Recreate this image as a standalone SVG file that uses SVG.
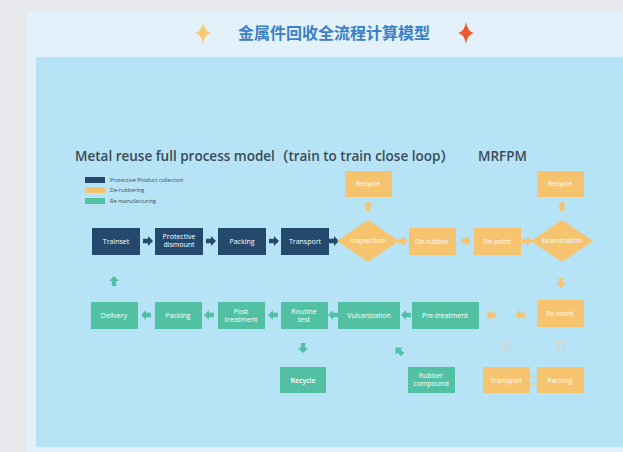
<svg xmlns="http://www.w3.org/2000/svg" xmlns:xlink="http://www.w3.org/1999/xlink" width="623" height="452" viewBox="0 0 623 452">
<style>
.t{font-family:"Open Sans","Liberation Sans",sans-serif;fill:#fff;text-anchor:middle;font-size:7px}
.nv{fill:#24496d}
.og{fill:#f6c46e}
.gr{fill:#52c0a2}
.lg{font-family:"Open Sans","Liberation Sans",sans-serif;font-size:5.5px;fill:#3a4a5a}
.h{font-family:"Open Sans","Liberation Sans",sans-serif;font-weight:600;font-size:13.5px;fill:#3b4a56}
.cj{font-family:"Noto Sans CJK SC",sans-serif}
</style>
<defs>
<path id="arr" d="M-5,-2.2 H0 V-5 L5,0 L0,5 V2.2 H-5 Z"/>
<path id="star" d="M0,-11 Q1.5,-1.5 8,0 Q1.5,1.5 0,11 Q-1.5,1.5 -8,0 Q-1.5,-1.5 0,-11 Z"/>
</defs>
<rect width="623" height="452" fill="#e6e8eb"/>
<rect x="27" y="11" width="596" height="441" fill="#e3f1fa"/>
<rect x="36" y="57" width="587" height="390" fill="#b6e3f6"/>
<use xlink:href="#star" x="203" y="33" fill="#f8c96e"/>
<use xlink:href="#star" x="466" y="33" fill="#ee5a2e"/>
<text x="334" y="39" font-family="'Noto Sans CJK SC',sans-serif" font-weight="bold" font-size="16" fill="#3a80c6" text-anchor="middle">金属件回收全流程计算模型</text>
<text x="75" y="161" class="h">Metal reuse full process model<tspan class="cj">（</tspan>train to train close loop<tspan class="cj">）</tspan></text>
<text x="478" y="161" class="h">MRFPM</text>
<g id="legend">
<rect x="85" y="177" width="20" height="6" class="nv"/><text x="110" y="182" class="lg">Protective Product collection</text>
<rect x="85" y="187" width="20" height="6" class="og"/><text x="110" y="192" class="lg">De-rubbering</text>
<rect x="85" y="198" width="20" height="6" class="gr"/><text x="110" y="203" class="lg">Re-manufacturing</text>
</g>
<g id="connectors">
<use xlink:href="#arr" x="148" y="241" fill="#24496d"/>
<use xlink:href="#arr" x="211" y="241" fill="#24496d"/>
<use xlink:href="#arr" x="274" y="241" fill="#24496d"/>
<use xlink:href="#arr" x="334" y="241" fill="#24496d"/>
<use xlink:href="#arr" x="403" y="241" fill="#f6c46e"/>
<use xlink:href="#arr" x="466" y="241" fill="#f6c46e"/>
<use xlink:href="#arr" x="527" y="241" fill="#f6c46e"/>
<use xlink:href="#arr" transform="translate(368,206) rotate(-90)" fill="#f6c46e"/>
<use xlink:href="#arr" transform="translate(562,206) rotate(-90)" fill="#f6c46e"/>
<use xlink:href="#arr" transform="translate(561,283) rotate(90)" fill="#f6c46e"/>
<use xlink:href="#arr" transform="translate(520,315) rotate(180)" fill="#f6c46e"/>
<use xlink:href="#arr" transform="translate(491,315) rotate(180)" fill="#f6c46e"/>
<use xlink:href="#arr" transform="translate(406,315) rotate(180)" fill="#52c0a2"/>
<use xlink:href="#arr" transform="translate(333,315) rotate(180)" fill="#52c0a2"/>
<use xlink:href="#arr" transform="translate(273,315) rotate(180)" fill="#52c0a2"/>
<use xlink:href="#arr" transform="translate(209,315) rotate(180)" fill="#52c0a2"/>
<use xlink:href="#arr" transform="translate(146,315) rotate(180)" fill="#52c0a2"/>
<use xlink:href="#arr" transform="translate(114,281) rotate(-90)" fill="#52c0a2"/>
<use xlink:href="#arr" transform="translate(303,348) rotate(90)" fill="#52c0a2"/>
<use xlink:href="#arr" transform="translate(399,351) rotate(-135)" fill="#52c0a2"/>
<use xlink:href="#arr" transform="translate(507,345) rotate(-90)" fill="none" stroke="#f2c79a" stroke-width="0.8"/>
<use xlink:href="#arr" transform="translate(561,345) rotate(-90)" fill="none" stroke="#f2c79a" stroke-width="0.8"/>
<line x1="530" y1="376" x2="537" y2="376" stroke="#f6c46e" stroke-width="1"/>
<line x1="530" y1="384" x2="537" y2="384" stroke="#f6c46e" stroke-width="1"/>
</g>
<g id="trainset"><rect x="92" y="228" width="48" height="27" class="nv"/><text x="116" y="244" class="t">Trainset</text></g>
<g id="dismount"><rect x="155" y="228" width="48" height="27" class="nv"/><text x="179" y="239" class="t" font-size="5.5">Protective</text><text x="179" y="247" class="t" font-size="5.5">dismount</text></g>
<g id="packing1"><rect x="218" y="228" width="48" height="27" class="nv"/><text x="242" y="244" class="t">Packing</text></g>
<g id="transport1"><rect x="281" y="228" width="48" height="27" class="nv"/><text x="305" y="244" class="t" font-size="6">Transport</text></g>
<g id="inspection"><path d="M368,220 L399,241 L368,262 L337,241 Z" class="og"/><text x="368" y="243" class="t" font-size="6">Inspection</text></g>
<g id="recycle1"><rect x="345" y="171" width="47" height="26" class="og"/><text x="368" y="186" class="t" font-size="6.5">Recycle</text></g>
<g id="derubber"><rect x="409" y="228" width="47" height="27" class="og"/><text x="432" y="244" class="t" font-size="6.5">De-rubber</text></g>
<g id="depaint"><rect x="474" y="228" width="47" height="27" class="og"/><text x="497" y="244" class="t" font-size="6.5">De-paint</text></g>
<g id="examination"><path d="M562,220 L593,241 L562,262 L531,241 Z" class="og"/><text x="562" y="243" class="t" font-size="6">Examination</text></g>
<g id="recycle2"><rect x="537" y="171" width="47" height="26" class="og"/><text x="560" y="186" class="t" font-size="6.5">Recycle</text></g>
<g id="remark"><rect x="537" y="300" width="47" height="27" class="og"/><text x="560" y="316" class="t" font-size="6.5">Re-mark</text></g>
<g id="transport2"><rect x="483" y="367" width="47" height="26" class="og"/><text x="506" y="383" class="t" font-size="6.5">Transport</text></g>
<g id="packing3"><rect x="537" y="367" width="47" height="26" class="og"/><text x="560" y="383" class="t" font-size="6.5">Packing</text></g>
<g id="pretreatment"><rect x="412" y="302" width="67" height="27" class="gr"/><text x="445" y="318" class="t" font-size="7.5">Pre-treatment</text></g>
<g id="vulcanization"><rect x="338" y="302" width="62" height="27" class="gr"/><text x="369" y="318" class="t">Vulcanization</text></g>
<g id="routine"><rect x="281" y="302" width="47" height="27" class="gr"/><text x="304" y="314" class="t" font-size="6.5">Routine</text><text x="304" y="322" class="t" font-size="6.5">test</text></g>
<g id="post"><rect x="218" y="302" width="47" height="27" class="gr"/><text x="241" y="314" class="t" font-size="6.5">Post</text><text x="241" y="322" class="t" font-size="6.5">treatment</text></g>
<g id="packing2"><rect x="155" y="302" width="47" height="27" class="gr"/><text x="178" y="318" class="t">Packing</text></g>
<g id="delivery"><rect x="91" y="302" width="47" height="27" class="gr"/><text x="114" y="318" class="t">Delivery</text></g>
<g id="recycle3"><rect x="280" y="367" width="46" height="26" class="gr"/><text x="303" y="383" class="t" font-size="8.5" font-weight="600">Recycle</text></g>
<g id="rubber"><rect x="408" y="367" width="47" height="26" class="gr"/><text x="431" y="378" class="t" font-size="6">Rubber</text><text x="431" y="386" class="t" font-size="6">compound</text></g>
</svg>
